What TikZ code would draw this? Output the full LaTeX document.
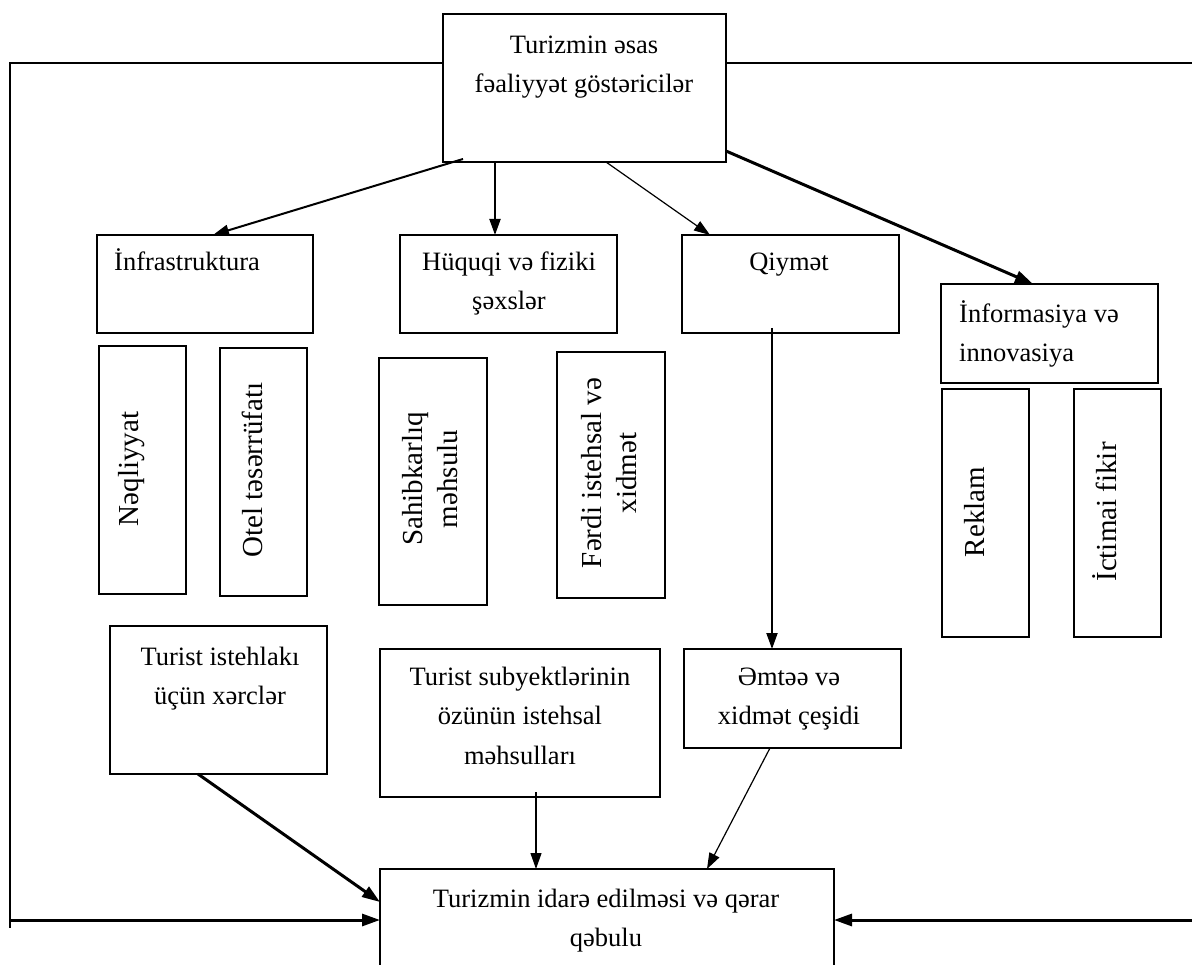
\documentclass[tikz,border=0pt]{standalone}
\usepackage{fontspec}
\setmainfont{Liberation Serif}
\usetikzlibrary{arrows.meta,calc}
\begin{document}
\begin{tikzpicture}[x=1pt,y=-1pt,
  box/.style={draw, line width=1.2pt, inner sep=0pt, outer sep=0pt},
  txt/.style={inner sep=0pt, font=\fontsize{26.5}{39.5}\selectfont, align=center, anchor=north},
  ltxt/.style={inner sep=0pt, font=\fontsize{26.5}{39.5}\selectfont, align=left, anchor=north west},
  vtxt/.style={inner sep=0pt, font=\fontsize{29}{35}\selectfont, align=center, rotate=90},
  thinarrow/.style={line width=1.2pt, -{Triangle[length=16pt,width=11pt]}},
  midarrow/.style={line width=2pt, -{Triangle[length=16pt,width=11pt]}},
  thickarrow/.style={line width=3pt, -{Triangle[length=18pt,width=12pt]}},
  frameline/.style={line width=2.2pt}
]
\clip (0,0) rectangle (1192,965);
\fill[white] (0,0) rectangle (1192,965);

% boxes
\node[box, minimum width=283, minimum height=148] (top) at (584.5,88) {};
\node[txt] (ttop) at (584,25.35) {\strut Turizmin əsas\\\strut fəaliyyət göstəricilər};

\node[box, minimum width=216, minimum height=98] (infra) at (205,284) {};
\node[ltxt] (tinfra) at (114,242.35) {\strut İnfrastruktura};

\node[box, minimum width=217, minimum height=98] (huq) at (508.5,284) {};
\node[txt] (thuq) at (509,242.35) {\strut Hüquqi və fiziki\\\strut şəxslər};

\node[box, minimum width=217, minimum height=98] (qiy) at (790.5,284) {};
\node[txt] (tqiy) at (789,242.35) {\strut Qiymət};

\node[box, minimum width=217, minimum height=99] (info) at (1049.5,333.5) {};
\node[ltxt] (tinfo) at (959,294.35) {\strut İnformasiya və\\\strut innovasiya};

\node[box, minimum width=87, minimum height=248] (neq) at (142.5,470) {};
\node[vtxt] (tneq) at (132,469) {Nəqliyyat};

\node[box, minimum width=87, minimum height=248] (otel) at (263.5,472) {};
\node[vtxt] (totel) at (252,470) {Otel təsərrüfatı};

\node[box, minimum width=108, minimum height=247] (sah) at (433,481.5) {};
\node[vtxt] (tsah) at (430,479) {Sahibkarlıq\\məhsulu};

\node[box, minimum width=108, minimum height=246] (ferdi) at (611,475) {};
\node[vtxt] (tferdi) at (609,473) {Fərdi istehsal və\\xidmət};

\node[box, minimum width=87, minimum height=248] (rek) at (985.5,513) {};
\node[vtxt] (trek) at (975,512) {Reklam};

\node[box, minimum width=87, minimum height=248] (ict) at (1117.5,513) {};
\node[vtxt] (tict) at (1105,512) {İctimai fikir};

\node[box, minimum width=217, minimum height=148] (tist) at (218.5,700) {};
\node[txt] (ttist) at (220,637.35) {\strut Turist istehlakı\\\strut üçün xərclər};

\node[box, minimum width=280, minimum height=148] (tsub) at (520,723) {};
\node[txt] (ttsub) at (520,657.35) {\strut Turist subyektlərinin\\\strut özünün istehsal\\\strut məhsulları};

\node[box, minimum width=217, minimum height=99] (emt) at (792.5,698.5) {};
\node[txt] (temt) at (789,657.35) {\strut Əmtəə və\\\strut xidmət çeşidi};

\node[box, minimum width=454, minimum height=106] (bot) at (607,922) {};
\node[txt] (tbot) at (606,879.35) {\strut Turizmin idarə edilməsi və qərar\\\strut qəbulu};

% frame
\coordinate (FTL) at (10,63);
\coordinate (FBL) at (10,928);
\coordinate (FTR) at (1192,63);
\coordinate (L0) at (10,920);
\coordinate (R0) at (1192,920);
\draw[frameline] (top.west |- FTL) -- (FTL) -- (FBL);
\draw[frameline] (top.east |- FTR) -- (FTR);
\draw[thickarrow] (L0) -- ($(bot.north west)+(0,51)$);
\draw[thickarrow] (R0) -- ($(bot.north east)+(0,51)$);

% arrows from top
\draw[midarrow] ($(top.south west)+(20,-3)$) -- ($(infra.north west)+(116,0)$);
\draw[midarrow] ($(top.south west)+(52,0)$) -- ($(huq.north west)+(95,0)$);
\draw[thinarrow] ($(top.south west)+(163,0)$) -- ($(qiy.north west)+(28,0)$);
\draw[thickarrow] ($(top.south east)+(0,-11)$) -- ($(info.north west)+(92,0)$);

% middle and bottom arrows
\draw[midarrow] ($(qiy.south west)+(90,-5)$) -- ($(emt.north west)+(88,0)$);
\draw[thickarrow] ($(tist.south west)+(88,0)$) -- ($(bot.north west)+(0,33)$);
\draw[thinarrow] ($(tsub.south west)+(156,-5)$) -- ($(bot.north west)+(156,0)$);
\draw[thinarrow] ($(emt.south west)+(86,0)$) -- ($(bot.north west)+(327,0)$);
\end{tikzpicture}
\end{document}
